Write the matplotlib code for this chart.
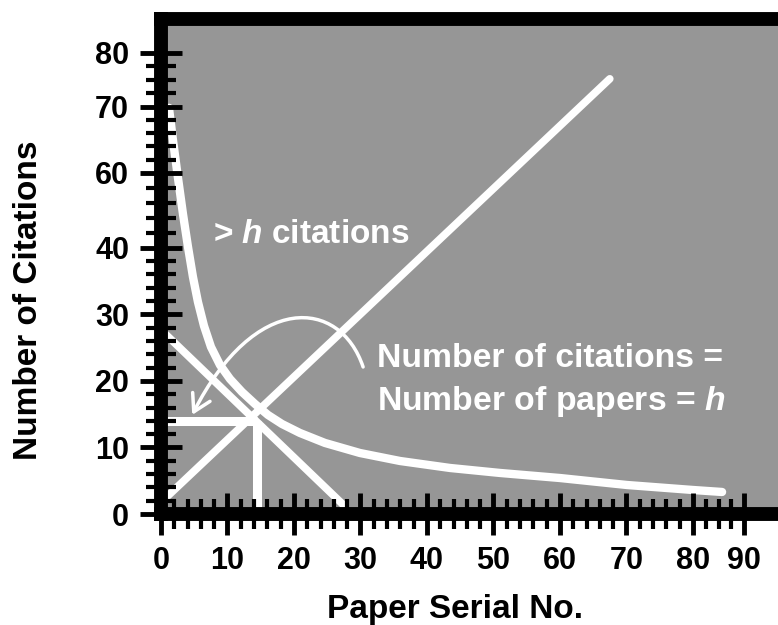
import numpy as np
import matplotlib
matplotlib.use("Agg")
import matplotlib.pyplot as plt
from matplotlib.patches import FancyArrowPatch
from matplotlib.path import Path

plt.rcParams["font.family"] = ["Liberation Sans", "DejaVu Sans"]
plt.rcParams["font.weight"] = "bold"
plt.rcParams["mathtext.fontset"] = "custom"
plt.rcParams["mathtext.rm"] = "Liberation Sans:bold"
plt.rcParams["mathtext.it"] = "Liberation Sans:italic:bold"

# ── Data ──────────────────────────────────────────────────────────────────────
x_ticks = [0, 10, 20, 30, 40, 50, 60, 70, 80, 90]
y_ticks = [0, 10, 20, 30, 40, 60, 70, 80]
x_minor = [v for v in range(2, 80, 2) if v % 10] + [82.5, 85, 87.5]
y_minor = ([v for v in range(2, 40, 2) if v % 10]
           + [44, 48, 52, 56, 62, 64, 66, 68, 72.5, 75, 77.5])

# citations of papers ranked by citation count
paper_no = [1.2, 1.8, 2.56, 3.31, 4.06, 4.81, 5.56, 6.47, 7.52, 8.87, 10.38,
            12.18, 14.14, 16.09, 18.2, 20.9, 24.66, 29.92, 35.94, 43.46,
            50.98, 60.0, 70.08, 80.0, 85.7]
citations = [69.85, 64.99, 58.6, 49.0, 40.3, 35.64, 31.88, 28.27, 25.11, 22.41,
             20.3, 18.35, 16.54, 14.89, 13.53, 12.18, 10.68, 9.17, 7.97, 6.92,
             6.17, 5.41, 4.36, 3.61, 3.31]

h_cit = 14.0      # horizontal h line
h_paper = 14.5    # vertical h line

diag_up_x = [0.9, 67.5]
diag_up_y = [2.6, 75.2]
diag_down_x = [0.3, 27.4]
diag_down_y = [27.4, 1.4]

# curved arrow (cubic bezier control points)
arrow_x = [30.4, 26.9, 14.1, 4.7]
arrow_y = [22.1, 32.5, 33.4, 14.9]

# the drawing squeezes the top of the y axis and the last x decade
y_knots = [-100, 0, 40, 60, 70, 80, 200]
y_pos = [-100, 0, 40, 51.3, 61.2, 69.3, 166.5]
x_knots = [-100, 0, 80, 90, 200]
x_pos = [-100, 0, 80, 87.7, 172.4]


def fwd_x(v):
    return np.interp(v, x_knots, x_pos)


def inv_x(v):
    return np.interp(v, x_pos, x_knots)


def fwd_y(v):
    return np.interp(v, y_knots, y_pos)


def inv_y(v):
    return np.interp(v, y_pos, y_knots)


# ── Figure ────────────────────────────────────────────────────────────────────
fig = plt.figure(figsize=(7.78, 6.25), dpi=100)
ax = fig.add_axes([0.2069, 0.1776, 0.8206, 0.792])
ax.set_facecolor("#969696")
ax.set_xscale("function", functions=(fwd_x, inv_x))
ax.set_yscale("function", functions=(fwd_y, inv_y))

line_kw = dict(color="white", solid_capstyle="round", solid_joinstyle="round", zorder=2)
ax.plot(paper_no, citations, lw=6, **line_kw)
ax.plot(diag_up_x, diag_up_y, lw=5.5, **line_kw)
ax.plot(diag_down_x, diag_down_y, lw=5.5, **line_kw)
ax.plot([0, h_paper], [h_cit, h_cit], color="white", lw=6.5,
        solid_capstyle="butt", zorder=2, clip_on=False)
ax.plot([h_paper, h_paper], [0, h_cit], color="white", lw=6.5,
        solid_capstyle="butt", zorder=2)

arrow_path = Path(np.column_stack([arrow_x, arrow_y]),
                  [Path.MOVETO, Path.CURVE4, Path.CURVE4, Path.CURVE4])
arrow = FancyArrowPatch(path=arrow_path, arrowstyle="->,head_length=0.6,head_width=0.35",
                        mutation_scale=20, color="white", lw=2.5, zorder=3)
ax.add_patch(arrow)

# ── Annotations ───────────────────────────────────────────────────────────────
ax.text(7.8, 41.3, r"> $h$ citations", color="white", fontsize=24,
        fontweight="bold", ha="left", va="baseline")
ax.text(32.5, 22.1, "Number of citations =", color="white", fontsize=24.3,
        fontweight="bold", ha="left", va="baseline")
ax.text(32.5, 15.6, r"Number of papers = $h$", color="white", fontsize=24.3,
        fontweight="bold", ha="left", va="baseline")

# ── Axes styling ──────────────────────────────────────────────────────────────
ax.set_xlim(0, 100.8)
ax.set_ylim(0, 86.3)
ax.set_xticks(x_ticks)
ax.set_xticklabels([str(v) for v in x_ticks])
ax.set_xticks(x_minor, minor=True)
ax.set_yticks(y_ticks)
ax.set_yticklabels([str(v) for v in y_ticks])
ax.set_yticks(y_minor, minor=True)
ax.set_axisbelow(False)

ax.tick_params(which="major", direction="inout", length=30, width=3.5,
               labelsize=22, pad=8, color="black")
ax.tick_params(which="minor", direction="inout", length=22, width=3, color="black")

for side in ["left", "top", "bottom"]:
    ax.spines[side].set_linewidth(10)
    ax.spines[side].set_color("black")
    ax.spines[side].set_capstyle("projecting")
ax.spines["right"].set_visible(False)

ax.set_xlabel("Paper Serial No.", fontsize=24, fontweight="bold")
ax.set_ylabel("Number of Citations", fontsize=24, fontweight="bold")
ax.xaxis.set_label_coords(0.4605, -0.162)
ax.yaxis.set_label_coords(-0.1833, 0.4323)

fig.savefig("out.png", dpi=100, facecolor="white")
